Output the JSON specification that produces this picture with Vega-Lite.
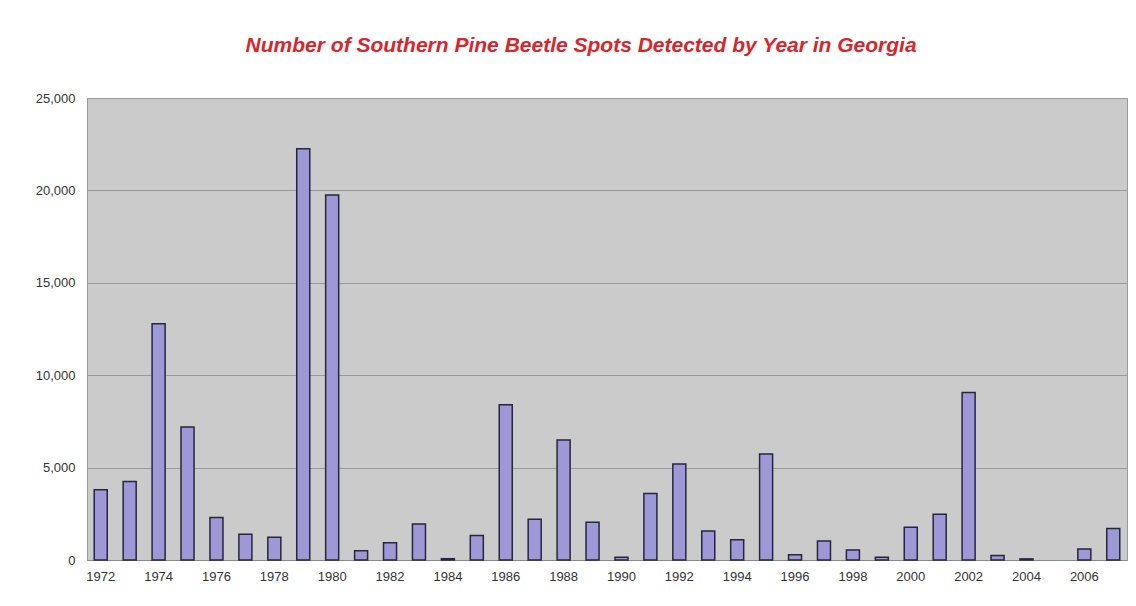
{
  "$schema": "https://vega.github.io/schema/vega-lite/v6.json",
  "autosize": "none",
  "width": 1040,
  "height": 462,
  "padding": {"left": 87, "top": 98, "right": 9, "bottom": 46},
  "background": "white",
  "title": {
    "text": "Number of Southern Pine Beetle Spots Detected by Year in Georgia",
    "font": "Liberation Sans",
    "fontSize": 21,
    "fontStyle": "italic",
    "fontWeight": "bold",
    "color": "#d8262c",
    "anchor": "middle",
    "frame": "bounds",
    "offset": 36
  },
  "config": {
    "view": {"fill": "#cbcbcb", "stroke": "#9a9a9a", "strokeWidth": 1},
    "axis": {"labelFont": "Liberation Sans", "labelFontSize": 13, "labelColor": "#333333"}
  },
  "data": {
    "values": [
      {"year": "1972", "spots": 3800},
      {"year": "1973", "spots": 4250},
      {"year": "1974", "spots": 12780},
      {"year": "1975", "spots": 7200},
      {"year": "1976", "spots": 2300},
      {"year": "1977", "spots": 1400},
      {"year": "1978", "spots": 1230},
      {"year": "1979", "spots": 22250},
      {"year": "1980", "spots": 19750},
      {"year": "1981", "spots": 500},
      {"year": "1982", "spots": 940},
      {"year": "1983", "spots": 1950},
      {"year": "1984", "spots": 70},
      {"year": "1985", "spots": 1320},
      {"year": "1986", "spots": 8400},
      {"year": "1987", "spots": 2200},
      {"year": "1988", "spots": 6500},
      {"year": "1989", "spots": 2040},
      {"year": "1990", "spots": 150},
      {"year": "1991", "spots": 3600},
      {"year": "1992", "spots": 5200},
      {"year": "1993", "spots": 1570},
      {"year": "1994", "spots": 1100},
      {"year": "1995", "spots": 5740},
      {"year": "1996", "spots": 290},
      {"year": "1997", "spots": 1030},
      {"year": "1998", "spots": 540},
      {"year": "1999", "spots": 145},
      {"year": "2000", "spots": 1770},
      {"year": "2001", "spots": 2470},
      {"year": "2002", "spots": 9070},
      {"year": "2003", "spots": 250},
      {"year": "2004", "spots": 60},
      {"year": "2005", "spots": null},
      {"year": "2006", "spots": 600},
      {"year": "2007", "spots": 1700}
    ]
  },
  "mark": {"type": "bar", "fill": "#9f98d6", "stroke": "#26263e", "strokeWidth": 1.5},
  "encoding": {
    "x": {
      "field": "year",
      "type": "ordinal",
      "sort": null,
      "scale": {
        "domain": ["1972","1973","1974","1975","1976","1977","1978","1979","1980","1981","1982","1983","1984","1985","1986","1987","1988","1989","1990","1991","1992","1993","1994","1995","1996","1997","1998","1999","2000","2001","2002","2003","2004","2005","2006","2007"],
        "paddingInner": 0.55,
        "paddingOuter": 0.25
      },
      "axis": {
        "title": null,
        "labelAngle": 0,
        "labelExpr": "(+datum.value) % 2 == 0 ? datum.value : ''",
        "ticks": false,
        "domain": true,
        "domainColor": "#8a8a8a",
        "labelPadding": 10
      }
    },
    "y": {
      "field": "spots",
      "type": "quantitative",
      "scale": {"domain": [0, 25000]},
      "axis": {
        "title": null,
        "values": [0, 5000, 10000, 15000, 20000, 25000],
        "labelExpr": "format(datum.value, ',d')",
        "grid": true,
        "gridColor": "#9a9a9a",
        "gridWidth": 1,
        "domain": false,
        "ticks": false,
        "labelPadding": 12
      }
    }
  }
}
